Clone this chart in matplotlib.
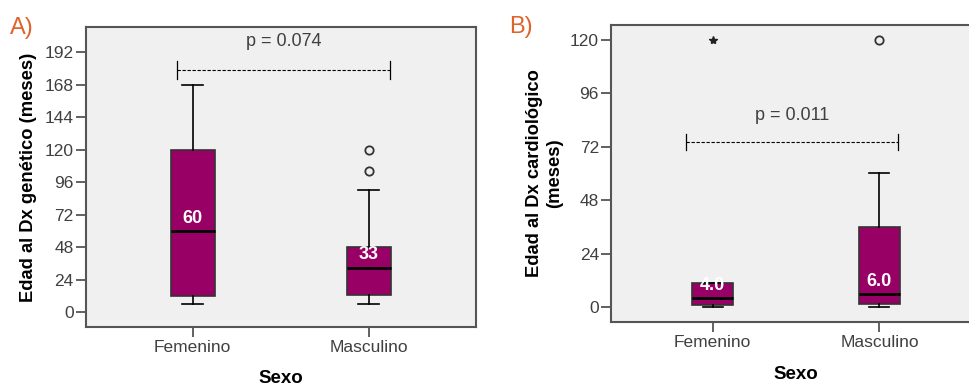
import matplotlib.pyplot as plt

plt.rcParams['font.family'] = ['Liberation Sans', 'DejaVu Sans']

groups = ['Femenino', 'Masculino']

# panel A: edad al Dx genetico (meses)
a_whislo = [6, 6]
a_q1 = [12, 13]
a_med = [60, 33]
a_q3 = [120, 48]
a_whishi = [168, 90]
a_outliers = [[], [104, 120]]
a_extremes = [[], []]
a_labels = ['60', '33']
a_ticks = [0, 24, 48, 72, 96, 120, 144, 168, 192]
a_p = 'p = 0.074'

# panel B: edad al Dx cardiologico (meses)
b_whislo = [0, 0]
b_q1 = [1, 1.5]
b_med = [4, 6]
b_q3 = [11, 36]
b_whishi = [11, 60]
b_outliers = [[], [120]]
b_extremes = [[120], []]
b_labels = ['4.0', '6.0']
b_ticks = [0, 24, 48, 72, 96, 120]
b_p = 'p = 0.011'

BOX = '#990066'
BG = '#f0f0f0'
EDGE = '#555555'
TXT = '#404040'


def draw_panel(ax, whislo, q1, med, q3, whishi, outliers, extremes, labels,
               ticks, ylim, p_text, p_x, p_y, p_tick, ylabel, xpad):
    stats = []
    for i in range(2):
        stats.append({'whislo': whislo[i], 'q1': q1[i], 'med': med[i],
                      'q3': q3[i], 'whishi': whishi[i], 'fliers': []})
    ax.bxp(stats, positions=[1, 2], widths=0.25, patch_artist=True,
           showfliers=False,
           boxprops=dict(facecolor=BOX, edgecolor='#333333', linewidth=1.2),
           medianprops=dict(color='black', linewidth=2),
           whiskerprops=dict(color='black', linewidth=1.2),
           capprops=dict(color='black', linewidth=1.2),
           capwidths=0.12)
    for i in range(2):
        if outliers[i]:
            ax.plot([i + 1] * len(outliers[i]), outliers[i], 'o', ms=6,
                    mfc='none', mec='#333333', mew=1.3)
        if extremes[i]:
            ax.plot([i + 1] * len(extremes[i]), extremes[i], '*', ms=6,
                    color='#222222')
        ax.annotate(labels[i], (i + 1, med[i]), xytext=(0, 3),
                    textcoords='offset points', ha='center', va='bottom',
                    color='white', fontsize=13, fontweight='bold')

    # significance bracket
    x0, x1 = p_x
    ax.plot([x0, x1], [p_y, p_y], ls=(0, (3, 1.5)), color='black', lw=0.8)
    ax.plot([x0, x0], [p_y - p_tick, p_y + p_tick], color='black', lw=0.9)
    ax.plot([x1, x1], [p_y - p_tick, p_y + p_tick], color='black', lw=0.9)
    ax.text((x0 + x1) / 2, p_y + 2.2 * p_tick, p_text, ha='center',
            va='bottom', fontsize=13, color=TXT)

    ax.set_facecolor(BG)
    ax.set_xlim(0.394, 2.606)
    ax.set_ylim(*ylim)
    ax.set_yticks(ticks)
    ax.set_yticklabels([str(t) for t in ticks])
    ax.set_xticks([1, 2])
    ax.set_xticklabels(groups)
    ax.tick_params(axis='both', direction='out', length=7, width=1.3,
                   color=EDGE, labelcolor=TXT, labelsize=12.5, pad=2)
    for s in ax.spines.values():
        s.set_color(EDGE)
        s.set_linewidth(1.5)
    ax.set_xlabel('Sexo', fontsize=13.5, fontweight='bold', labelpad=xpad)
    ax.set_ylabel(ylabel, fontsize=13.2, fontweight='bold', labelpad=5)


fig = plt.figure(figsize=(9.69, 3.88), dpi=100)

ax_a = fig.add_axes([0.0888, 0.157, 0.402, 0.773])
draw_panel(ax_a, a_whislo, a_q1, a_med, a_q3, a_whishi, a_outliers,
           a_extremes, a_labels, a_ticks, (-11, 210.5), a_p, (0.91, 2.12),
           179, 6.5, 'Edad al Dx genético (meses)', 11)

ax_b = fig.add_axes([0.631, 0.170, 0.381, 0.766])
draw_panel(ax_b, b_whislo, b_q1, b_med, b_q3, b_whishi, b_outliers,
           b_extremes, b_labels, b_ticks, (-6.6, 126.6), b_p, (0.84, 2.11),
           74, 3.7, 'Edad al Dx cardiológico\n(meses)', 12)

fig.text(0.010, 0.912, 'A)', fontsize=17, color='#e0622a')
fig.text(0.525, 0.915, 'B)', fontsize=17, color='#e0622a')

fig.savefig('out.png', dpi=100)
